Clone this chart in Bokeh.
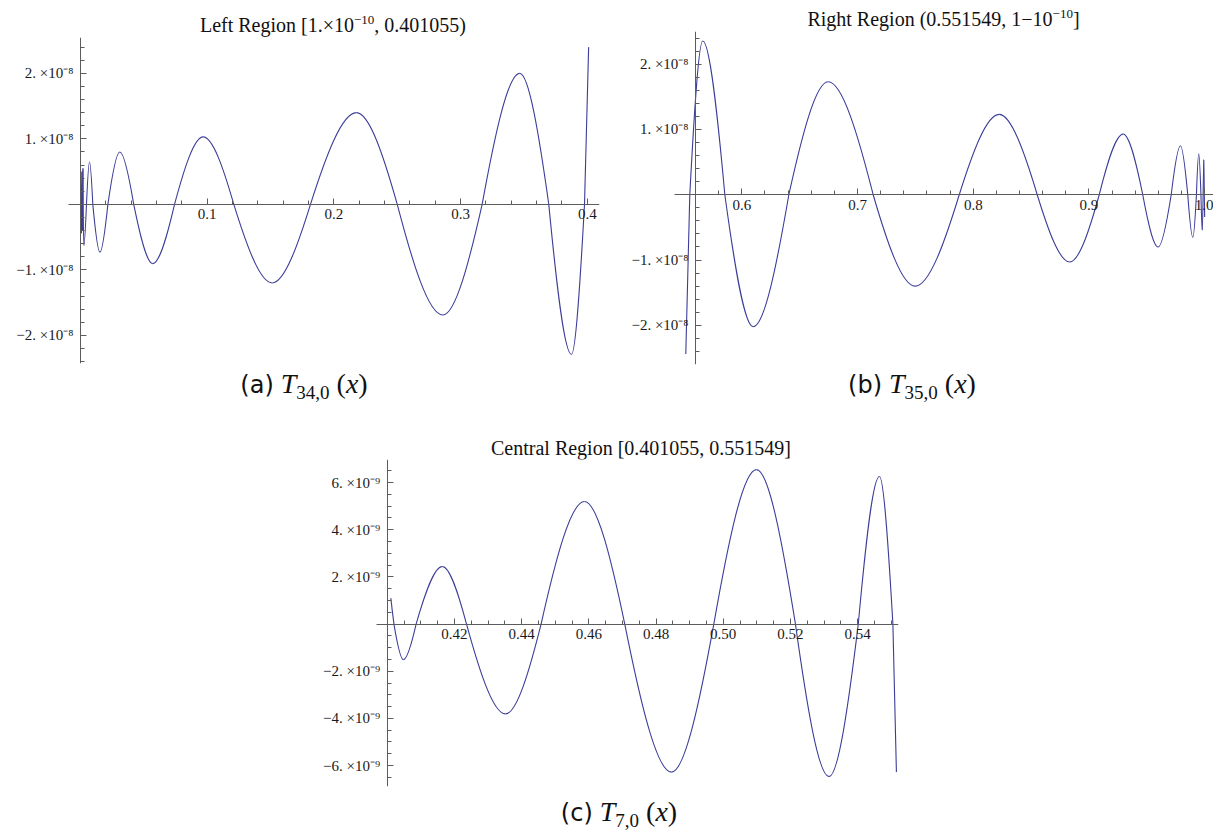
import numpy as np
from bokeh.plotting import figure
from bokeh.models import FixedTicker, Range1d, Div, Spacer
from bokeh.layouts import column, row
from bokeh.embed import file_html
from bokeh.resources import INLINE

# ---------------- data (knots: zero crossings and extrema) ----------------
# (a) Left Region, T_{34,0}(x)
left_x = [0.0004, 0.0005, 0.0007, 0.0009, 0.0011, 0.0013, 0.0015, 0.0017, 0.0019, 0.0021,
          0.0026, 0.0047, 0.0071, 0.0097, 0.0153, 0.0216,
          0.0310, 0.0420, 0.0570, 0.0742, 0.0968, 0.1210, 0.1513, 0.1815, 0.2178, 0.2500,
          0.2860, 0.3170, 0.3467, 0.3696, 0.3875, 0.3978, 0.40106]
left_y = [0.30e-8, 0, -0.44e-8, 0, 0.50e-8, 0, -0.40e-8, 0, 0.55e-8, 0,
          -0.63e-8, 0, 0.65e-8, 0, -0.73e-8, 0,
          0.80e-8, 0, -0.905e-8, 0, 1.03e-8, 0, -1.20e-8, 0, 1.40e-8, 0,
          -1.69e-8, 0, 2.00e-8, 0, -2.29e-8, 0, 2.40e-8]

# (b) Right Region, T_{35,0}(x)
right_x = [0.55155, 0.5550, 0.5662, 0.5853, 0.6098, 0.6406, 0.6746, 0.7135, 0.7498, 0.7879,
           0.8224, 0.8553, 0.8834, 0.9089, 0.9296, 0.9465, 0.9598, 0.9711, 0.9791, 0.9854,
           0.9898, 0.9929, 0.9949, 0.9968, 0.9979, 0.9987, 0.9993, 0.9997, 1.0]
right_y = [-2.44e-8, 0, 2.355e-8, 0, -2.02e-8, 0, 1.73e-8, 0, -1.40e-8, 0,
           1.23e-8, 0, -1.03e-8, 0, 0.93e-8, 0, -0.80e-8, 0, 0.75e-8, 0,
           -0.655e-8, 0, 0.63e-8, 0, -0.545e-8, 0, 0.54e-8, 0, -0.34e-8]

# (c) Central Region, T_{7,0}(x)
center_x = [0.40106, 0.4020, 0.4048, 0.4086, 0.4164, 0.4236, 0.4352, 0.4458, 0.4587, 0.4707,
            0.4846, 0.4972, 0.5099, 0.5215, 0.5315, 0.5402, 0.5465, 0.5505, 0.55155]
center_y = [1.10e-9, 0, -1.51e-9, 0, 2.44e-9, 0, -3.81e-9, 0, 5.20e-9, 0,
            -6.28e-9, 0, 6.55e-9, 0, -6.47e-9, 0, 6.26e-9, 0, -6.28e-9]

# ticks and tick labels
left_xticks = [0.1, 0.2, 0.3, 0.4]
left_xlabels = ["0.1", "0.2", "0.3", "0.4"]
right_xticks = [0.6, 0.7, 0.8, 0.9, 1.0]
right_xlabels = ["0.6", "0.7", "0.8", "0.9", "1.0"]
center_xticks = [0.42, 0.44, 0.46, 0.48, 0.50, 0.52, 0.54]
center_xlabels = ["0.42", "0.44", "0.46", "0.48", "0.50", "0.52", "0.54"]
e8_ticks = [-2e-8, -1e-8, 1e-8, 2e-8]
e8_labels = ["\u22122. \u00d710\u207b\u2078", "\u22121. \u00d710\u207b\u2078",
             "1. \u00d710\u207b\u2078", "2. \u00d710\u207b\u2078"]
e9_ticks = [-6e-9, -4e-9, -2e-9, 2e-9, 4e-9, 6e-9]
e9_labels = ["\u22126. \u00d710\u207b\u2079", "\u22124. \u00d710\u207b\u2079", "\u22122. \u00d710\u207b\u2079",
             "2. \u00d710\u207b\u2079", "4. \u00d710\u207b\u2079", "6. \u00d710\u207b\u2079"]

CURVE = "#3d3d99"
AXIS = "#5c5c5c"
SERIF = "Liberation Serif"


def bezier_parts(xs, ys):
    """Quarter-wave cubic pieces between consecutive knots (crossing <-> extremum)."""
    out = dict(x0=[], y0=[], x1=[], y1=[], cx0=[], cy0=[], cx1=[], cy1=[])
    for i in range(1, len(xs) - 2):
        ax, ay, bx, by = xs[i], ys[i], xs[i + 1], ys[i + 1]
        w = bx - ax
        if ay == 0:
            c0 = (ax + w / 3.0, 0.5236 * by)
            c1 = (bx - 0.318 * w, by)
        else:
            c0 = (ax + 0.318 * w, ay)
            c1 = (bx - w / 3.0, 0.5236 * ay)
        out["x0"].append(ax); out["y0"].append(ay)
        out["x1"].append(bx); out["y1"].append(by)
        out["cx0"].append(c0[0]); out["cy0"].append(c0[1])
        out["cx1"].append(c1[0]); out["cy1"].append(c1[1])
    return out


def style_axis(ax, standoff):
    ax.axis_line_color = AXIS
    ax.axis_line_width = 1
    ax.major_tick_line_color = AXIS
    ax.minor_tick_line_color = AXIS
    ax.major_tick_in = 6
    ax.major_tick_out = 0
    ax.minor_tick_in = 4
    ax.minor_tick_out = 0
    ax.major_label_text_font = SERIF
    ax.major_label_text_font_size = "15px"
    ax.major_label_text_color = "#1a1a1a"
    ax.major_label_standoff = standoff


def panel(xs, ys, xr, yr, x_bounds, y_at, xt, xminor, xl, yt, yminor, yl, fw, fh, bl, br, bt, bb):
    p = figure(frame_width=fw, frame_height=fh, x_range=Range1d(*xr), y_range=Range1d(*yr),
               output_backend="svg", toolbar_location=None,
               min_border_left=bl, min_border_right=br, min_border_top=bt, min_border_bottom=bb)
    p.grid.visible = False
    p.outline_line_color = None
    parts = bezier_parts(xs, ys)
    p.bezier(line_color=CURVE, line_width=1.1, **parts)
    p.line(xs[:2], ys[:2], line_color=CURVE, line_width=1.1)
    p.line(xs[-2:], ys[-2:], line_color=CURVE, line_width=1.1)
    p.xaxis.fixed_location = 0
    p.yaxis.fixed_location = y_at
    p.xaxis.bounds = x_bounds
    p.xaxis.ticker = FixedTicker(ticks=xt, minor_ticks=xminor)
    p.yaxis.ticker = FixedTicker(ticks=yt, minor_ticks=yminor)
    p.xaxis.major_label_overrides = dict(zip(xt, xl))
    p.yaxis.major_label_overrides = dict(zip(yt, yl))
    style_axis(p.xaxis[0], 5)
    style_axis(p.yaxis[0], 7)
    return p


def minors(a, b, step, scale=1.0):
    vals = np.round(np.arange(a, b + step / 2, step), 6)
    return [float(v) * scale for v in vals if abs(v) > 1e-12]


fig_a = panel(left_x, left_y, (-0.0600, 0.40963), (-2.43e-8, 2.547e-8), (-0.0095, 0.4096), 0,
              left_xticks, minors(0.02, 0.40, 0.02), left_xlabels,
              e8_ticks, minors(-2.4, 2.4, 0.2, 1e-8), e8_labels,
              595, 326, 4, 9, 0, 5)
fig_b = panel(right_x, right_y, (0.48820, 1.00765), (-2.60e-8, 2.50e-8), (0.5418, 1.00765), 0.56,
              right_xticks, minors(0.58, 1.0, 0.02), right_xlabels,
              e8_ticks, minors(-2.4, 2.4, 0.2, 1e-8), e8_labels,
              601, 333, 4, 0, 0, 5)
fig_c = panel(center_x, center_y, (0.37836, 0.55217), (-6.89e-9, 6.98e-9), (0.3968, 0.5522), 0.40,
              center_xticks, minors(0.405, 0.550, 0.005), center_xlabels,
              e9_ticks, minors(-6.5, 6.5, 0.5, 1e-9), e9_labels,
              584, 327, 4, 12, 0, 4)

SUP = '<span style="font-size:13px;vertical-align:8px;line-height:0">{}</span>'
SERIF_CSS = "'Liberation Serif',serif"


def shift_pad(width, center):
    if center >= width / 2:
        return "padding-left:{}px;".format(int(round(2 * center - width)))
    return "padding-right:{}px;".format(int(round(width - 2 * center)))


def title_div(text, width, height, pad_top, center):
    html = ('<div style="box-sizing:border-box;width:{}px;padding-top:{}px;{}text-align:center;'
            'font-family:{};font-size:20px;line-height:15px;color:#111;white-space:nowrap">{}</div>'
            ).format(width, pad_top, shift_pad(width, center), SERIF_CSS, text)
    return Div(text=html, width=width, height=height, margin=0)


def caption_div(tag, sub, width, height, pad_top, center):
    html = ('<div style="box-sizing:border-box;width:{}px;padding-top:{}px;{}text-align:center;'
            'font-family:{};font-size:28px;line-height:28px;color:#111;white-space:nowrap">'
            '<span style="font-family:\'DejaVu Sans\',sans-serif;font-size:24px">({})</span>&#8197;'
            '<i>T</i>'
            '<span style="font-size:19px;vertical-align:-6px;line-height:0">{}</span>'
            '<span>&#8197;(<i>x</i>)</span>'
            '</div>').format(width, pad_top, shift_pad(width, center), SERIF_CSS, tag, sub)
    return Div(text=html, width=width, height=height, margin=0)


title_a = title_div("Left Region [1.\u00d710" + SUP.format("\u221210") + ", 0.401055)", 608, 37, 18, 333)
title_b = title_div("Right Region (0.551549, 1\u221210" + SUP.format("\u221210") + "]", 605, 31, 12, 335.5)
title_c = title_div("Central Region [0.401055, 0.551549]", 600, 59, 41, 331)

cap_a = caption_div("a", "34,0", 608, 32, 2, 304)
cap_b = caption_div("b", "35,0", 605, 31, 1, 304)
cap_c = caption_div("c", "7,0", 600, 41, 8, 309)

col_a = column(title_a, fig_a, cap_a, spacing=0)
col_b = column(title_b, fig_b, cap_b, spacing=0)
top = row(col_a, col_b, spacing=0)
bottom = row(Spacer(width=310, height=10, margin=0), column(title_c, fig_c, cap_c, spacing=0), spacing=0)
layout = column(top, bottom, spacing=0)

open("out.html", "w").write(file_html(layout, INLINE))
